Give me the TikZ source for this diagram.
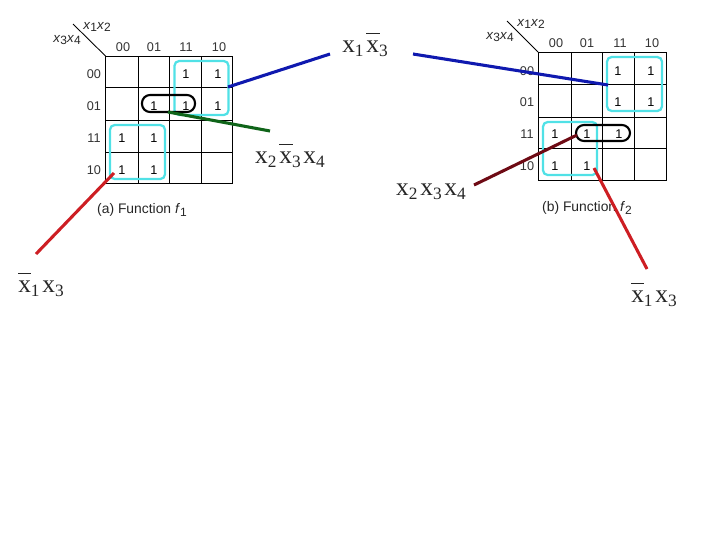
\documentclass[tikz,border=0pt]{standalone}
\usepackage{fontspec}
\setmainfont{Liberation Serif}
\setsansfont{Liberation Sans}
\usepackage{xcolor}
\definecolor{loopcyan}{RGB}{80,225,230}
\definecolor{termblue}{RGB}{15,25,175}
\definecolor{termgreen}{RGB}{15,100,25}
\definecolor{termred}{RGB}{205,30,35}
\definecolor{termmaroon}{RGB}{110,10,20}
% serif product terms: letter with subscript, and the same with a bar above it
\newcommand{\litx}[1]{x\raisebox{-0.3ex}{\fontsize{13}{13}\selectfont #1}}
\newcommand{\barx}[1]{\smash{\rlap{\raisebox{0.78em}{\rule{0.52em}{0.5pt}}}}\litx{#1}}
\newcommand{\litgap}{\hspace{0.11em}}
% italic corner labels
\newcommand{\varpair}[2]{\textit{x}\raisebox{-0.35ex}{\small #1}\textit{x}\raisebox{-0.35ex}{\small #2}}
\begin{document}
\begin{tikzpicture}[
  x=0.75pt,y=-0.75pt,
  gridline/.style={draw=black,line width=0.65pt},
  headlab/.style={font=\sffamily\fontsize{9.5}{11}\selectfont,inner sep=0pt,text=black!80},
  corner/.style={font=\sffamily\fontsize{10}{12}\selectfont,inner sep=0pt,text=black!85},
  onecell/.style={font=\sffamily\fontsize{9.5}{11}\selectfont,inner sep=0pt},
  caption/.style={font=\sffamily\fontsize{10.4}{12}\selectfont,inner sep=0pt,text=black!85},
  term/.style={font=\rmfamily\fontsize{19}{22}\selectfont,inner sep=0pt,text=black!85},
  cyanloop/.style={draw=loopcyan,line width=1.7pt,rounded corners=3.5pt},
  blackloop/.style={draw=black,line width=1.6pt,rounded corners=6pt},
  ar/.style={line width=2.3pt}
]
\useasboundingbox (0,0) rectangle (720,540);

% LEFT: map of f1
\draw[gridline] (105.5,56) rectangle (232.5,183);
\draw[gridline] (138.5,56) -- (138.5,183) (169.5,56) -- (169.5,183) (201.5,56) -- (201.5,183);
\draw[gridline] (105.5,87) -- (232.5,87) (105.5,120) -- (232.5,120) (105.5,152) -- (232.5,152);
\coordinate (acorner) at (73,24);
\coordinate (agrid) at (105.5,56);
\draw[gridline] (acorner) -- (agrid);
\node[corner] (atop) at (97,27) {\varpair{1}{2}};
\node[corner] (aside) at (67,40) {\varpair{3}{4}};
\node[headlab] (ac1) at (123,47) {00};
\node[headlab] (ac2) at (154,47) {01};
\node[headlab] (ac3) at (186,47) {11};
\node[headlab] (ac4) at (219,47) {10};
\node[headlab] (ar1) at (94,74) {00};
\node[headlab] (ar2) at (94,106) {01};
\node[headlab] (ar3) at (94,138) {11};
\node[headlab] (ar4) at (94,170) {10};
\node[onecell] (a13) at (186,74) {1};
\node[onecell] (a14) at (218,74) {1};
\node[onecell] (a22) at (154,106) {1};
\node[onecell] (a23) at (186,106) {1};
\node[onecell] (a24) at (218,106) {1};
\node[onecell] (a31) at (122,138) {1};
\node[onecell] (a32) at (154,138) {1};
\node[onecell] (a41) at (122,170) {1};
\node[onecell] (a42) at (154,170) {1};
\draw[cyanloop] (174.5,61) rectangle (228.5,115);
\draw[cyanloop] (110,125) rectangle (165,179);
\draw[blackloop] (142,95) rectangle (195,112);
\node[caption] (acap) at (142,210) {(a) Function \textit{f}\raisebox{-0.35ex}{\small 1}};

% RIGHT: map of f2
\draw[gridline] (538,52) rectangle (666,180);
\draw[gridline] (571,52) -- (571,180) (602,52) -- (602,180) (634,52) -- (634,180);
\draw[gridline] (538,84) -- (666,84) (538,117) -- (666,117) (538,148) -- (666,148);
\coordinate (bcorner) at (507,21);
\coordinate (bgrid) at (538,52);
\draw[gridline] (bcorner) -- (bgrid);
\node[corner] (btop) at (531,24) {\varpair{1}{2}};
\node[corner] (bside) at (500,37) {\varpair{3}{4}};
\node[headlab] (bc1) at (556,43) {00};
\node[headlab] (bc2) at (587,43) {01};
\node[headlab] (bc3) at (620,43) {11};
\node[headlab] (bc4) at (652,43) {10};
\node[headlab] (br1) at (527,71) {00};
\node[headlab] (br2) at (527,102) {01};
\node[headlab] (br3) at (527,134) {11};
\node[headlab] (br4) at (527,166) {10};
\node[onecell] (b13) at (618,71) {1};
\node[onecell] (b14) at (651,71) {1};
\node[onecell] (b23) at (618,102) {1};
\node[onecell] (b24) at (651,102) {1};
\node[onecell] (b31) at (555,134) {1};
\node[onecell] (b32) at (587,134) {1};
\node[onecell] (b33) at (619,134) {1};
\node[onecell] (b41) at (555,166) {1};
\node[onecell] (b42) at (587,166) {1};
\draw[cyanloop] (607,57) rectangle (662,111);
\draw[cyanloop] (543,122) rectangle (597,175);
\draw[blackloop] (576,125) rectangle (630,141);
\node[caption] (bcap) at (587,208) {(b) Function \textit{f}\raisebox{-0.35ex}{\small 2}};

% product terms
\node[term] (tblue) at (365,49) {\litx{1}\litgap\barx{3}};
\node[term] (tgreen) at (290,160) {\litx{2}\litgap\barx{3}\litgap\litx{4}};
\node[term] (tred) at (41,289) {\barx{1}\litgap\litx{3}};
\node[term] (tmaroon) at (431,192) {\litx{2}\litgap\litx{3}\litgap\litx{4}};
\node[term] (tredb) at (654,299) {\barx{1}\litgap\litx{3}};

% coloured leaders
\coordinate (ablue1) at (228,87);
\coordinate (ablue2) at (330,54);
\coordinate (agreen1) at (168,112);
\coordinate (agreen2) at (270,131);
\coordinate (ared1) at (114,173);
\coordinate (ared2) at (36,254);
\coordinate (bblue1) at (413,54);
\coordinate (bblue2) at (608,85);
\coordinate (bmar1) at (474,185);
\coordinate (bmar2) at (577,135);
\coordinate (bred1) at (594,168);
\coordinate (bred2) at (647,269);
\draw[ar,termblue] (ablue1) -- (ablue2);
\draw[ar,termgreen] (agreen1) -- (agreen2);
\draw[ar,termred] (ared1) -- (ared2);
\draw[ar,termblue] (bblue1) -- (bblue2);
\draw[ar,termmaroon] (bmar1) -- (bmar2);
\draw[ar,termred] (bred1) -- (bred2);
\end{tikzpicture}
\end{document}
